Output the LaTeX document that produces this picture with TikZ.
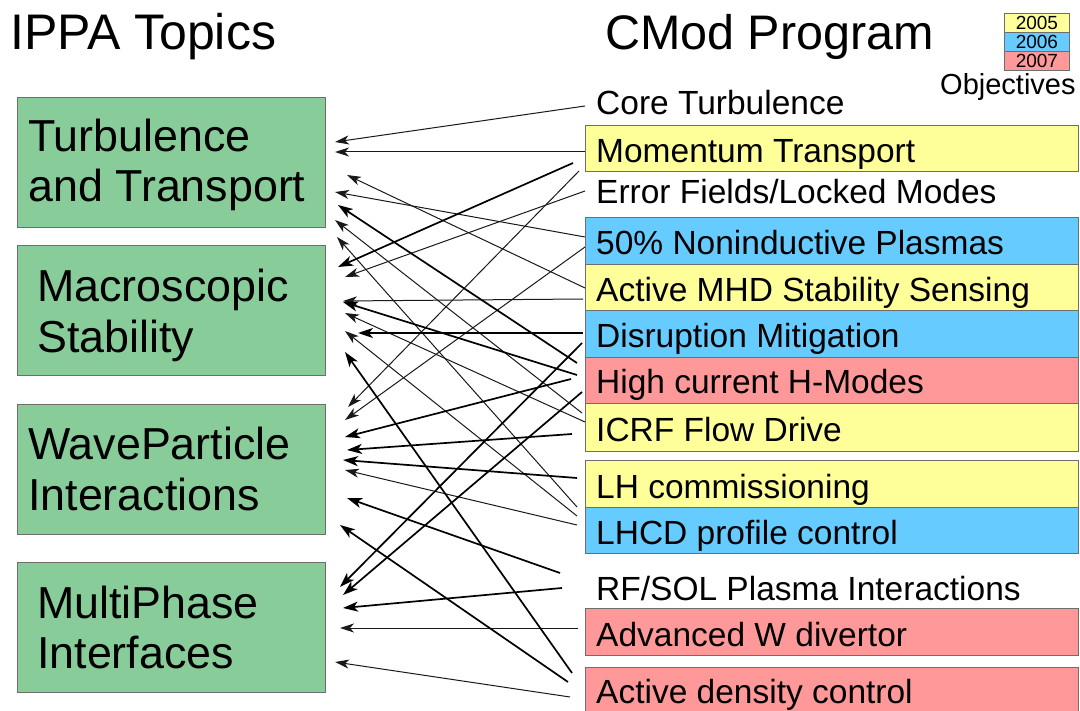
\documentclass[tikz,border=0pt]{standalone}
\usepackage{fontspec}
\setmainfont{Liberation Sans}
\usetikzlibrary{arrows.meta}
\newcommand\fsz[1]{\fontsize{#1}{#1}\selectfont}
\definecolor{grn}{HTML}{88CC99}
\definecolor{ylw}{HTML}{FFFF99}
\definecolor{blu}{HTML}{66CCFF}
\definecolor{rdd}{HTML}{FF9999}
\definecolor{brd}{HTML}{6E6E6E}
\tikzset{
  lbox/.style={draw=brd, line width=1.2pt, fill=grn, minimum width=308pt, minimum height=130pt, anchor=north west, inner sep=0pt},
  rbox/.style={draw=brd, line width=1.2pt, minimum width=493pt, anchor=north west, inner sep=0pt},
  legbox/.style={draw=brd, line width=0.8pt, minimum width=65pt, minimum height=19pt, anchor=north west, inner sep=0pt, font=\fsz{19}},
  ltxt/.style={anchor=base west, inner sep=0pt, font=\fsz{44.8}},
  rtxt/.style={anchor=base west, inner sep=0pt, font=\fsz{33.5}},
  ttl/.style={anchor=base west, inner sep=0pt, font=\fsz{48.5}},
  thinarr/.style={draw=black!90, line width=1pt, -{Stealth[length=14pt,width=9pt,inset=4pt]}},
  thickarr/.style={draw=black, line width=1.7pt, -{Stealth[length=15pt,width=10pt,inset=4pt]}}
}
\begin{document}
\begin{tikzpicture}[x=1pt,y=-1pt]
\useasboundingbox (0,0) rectangle (1080,711);
% titles
\node[ttl, font=\fsz{50}] (T1) at (10,50) {IPPA Topics};
\node[ttl] (T2) at (605,50) {CMod Program};
% legend
\node[legbox, fill=ylw] (L5) at (1004,13) {2005};
\node[legbox, fill=blu] (L6) at (1004,32) {2006};
\node[legbox, fill=rdd] (L7) at (1004,51) {2007};
\node[anchor=base west, inner sep=0pt, font=\fsz{29}] (OBJ) at (940,95) {Objectives};
% left boxes
\node[lbox] (TT) at (17,97) {};
\node[lbox] (MS) at (17,245) {};
\node[lbox] (WP) at (17,404) {};
\node[lbox] (MP) at (17,562) {};
\node[ltxt] (TTa) at (28,152) {Turbulence};
\node[ltxt] (TTb) at (28,202) {and Transport};
\node[ltxt] (MSa) at (37,302) {Macroscopic};
\node[ltxt] (MSb) at (37,353) {Stability};
\node[ltxt] (WPa) at (28,460) {WaveParticle};
\node[ltxt] (WPb) at (28,510) {Interactions};
\node[ltxt] (MPa) at (37,618) {MultiPhase};
\node[ltxt] (MPb) at (37,668) {Interfaces};
% right boxes
\node[rbox, fill=ylw, minimum height=46pt] (R2) at (585,125) {};
\node[rbox, fill=blu, minimum height=47pt] (R4) at (585,217) {};
\node[rbox, fill=ylw, minimum height=46pt] (R5) at (585,264) {};
\node[rbox, fill=blu, minimum height=47pt] (R6) at (585,310) {};
\node[rbox, fill=rdd, minimum height=46pt] (R7) at (585,357) {};
\node[rbox, fill=ylw, minimum height=48pt] (R8) at (585,403) {};
\node[rbox, fill=ylw, minimum height=47pt] (R9) at (585,460) {};
\node[rbox, fill=blu, minimum height=46pt] (R10) at (585,507) {};
\node[rbox, fill=rdd, minimum height=47pt] (R12) at (585,608) {};
\node[rbox, fill=rdd, minimum height=50pt] (R13) at (585,667) {};
\node[rtxt] (X1) at (596,115) {Core Turbulence};
\node[rtxt] (X2) at (596,163) {Momentum Transport};
\node[rtxt] (X3) at (596,204) {Error Fields/Locked Modes};
\node[rtxt] (X4) at (596,255) {50\% Noninductive Plasmas};
\node[rtxt] (X5) at (596,302) {Active MHD Stability Sensing};
\node[rtxt] (X6) at (596,348) {Disruption Mitigation};
\node[rtxt] (X7) at (596,394) {High current H-Modes};
\node[rtxt] (X8) at (596,442) {ICRF Flow Drive};
\node[rtxt] (X9) at (596,498) {LH commissioning};
\node[rtxt] (X10) at (596,544) {LHCD profile control};
\node[rtxt] (X11) at (596,600) {RF/SOL Plasma Interactions};
\node[rtxt] (X12) at (596,646) {Advanced W divertor};
\node[rtxt] (X13) at (596,703) {Active density control};
% connector end points
\coordinate (s1) at (585,106);  \coordinate (t1) at (335,142);
\coordinate (s2) at (585,152);  \coordinate (t2) at (335,152);
\coordinate (s3) at (573,163);  \coordinate (t3) at (338,267);
\coordinate (s4) at (579,171);  \coordinate (t4) at (348,407);
\coordinate (s5) at (585,191);  \coordinate (t5) at (345,277);
\coordinate (s6) at (585,237);  \coordinate (t6) at (335,192);
\coordinate (s7) at (585,247);  \coordinate (t7) at (345,420);
\coordinate (s8) at (585,288);  \coordinate (t8) at (347,175);
\coordinate (s9) at (583,299);  \coordinate (t9) at (343,301);
\coordinate (s10) at (583,333); \coordinate (t10) at (358,333);
\coordinate (s11) at (582,343); \coordinate (t11) at (340,587);
\coordinate (s12) at (577,363); \coordinate (t12) at (338,205);
\coordinate (s13) at (577,375); \coordinate (t13) at (343,302);
\coordinate (s14) at (571,379); \coordinate (t14) at (345,437);
\coordinate (s15) at (582,392); \coordinate (t15) at (343,595);
\coordinate (s16) at (585,422); \coordinate (t16) at (345,313);
\coordinate (s17) at (582,413); \coordinate (t17) at (335,220);
\coordinate (s18) at (572,434); \coordinate (t18) at (347,450);
\coordinate (s19) at (577,478); \coordinate (t19) at (343,460);
\coordinate (s20) at (577,507); \coordinate (t20) at (337,237);
\coordinate (s21) at (577,516); \coordinate (t21) at (345,331);
\coordinate (s22) at (577,525); \coordinate (t22) at (345,470);
\coordinate (s23) at (560,573); \coordinate (t23) at (347,498);
\coordinate (s24) at (562,588); \coordinate (t24) at (343,608);
\coordinate (s25) at (578,628); \coordinate (t25) at (340,628);
\coordinate (s26) at (572,673); \coordinate (t26) at (345,352);
\coordinate (s27) at (568,682); \coordinate (t27) at (340,525);
\coordinate (s28) at (570,697); \coordinate (t28) at (335,662);
\foreach \i in {1,2,4,5,6,7,8,9,16,17,20,21,22,25,28}
  \draw[thinarr] (s\i) -- (t\i);
\foreach \i in {3,10,11,12,13,14,15,18,19,23,24,26,27}
  \draw[thickarr] (s\i) -- (t\i);
\end{tikzpicture}
\end{document}
